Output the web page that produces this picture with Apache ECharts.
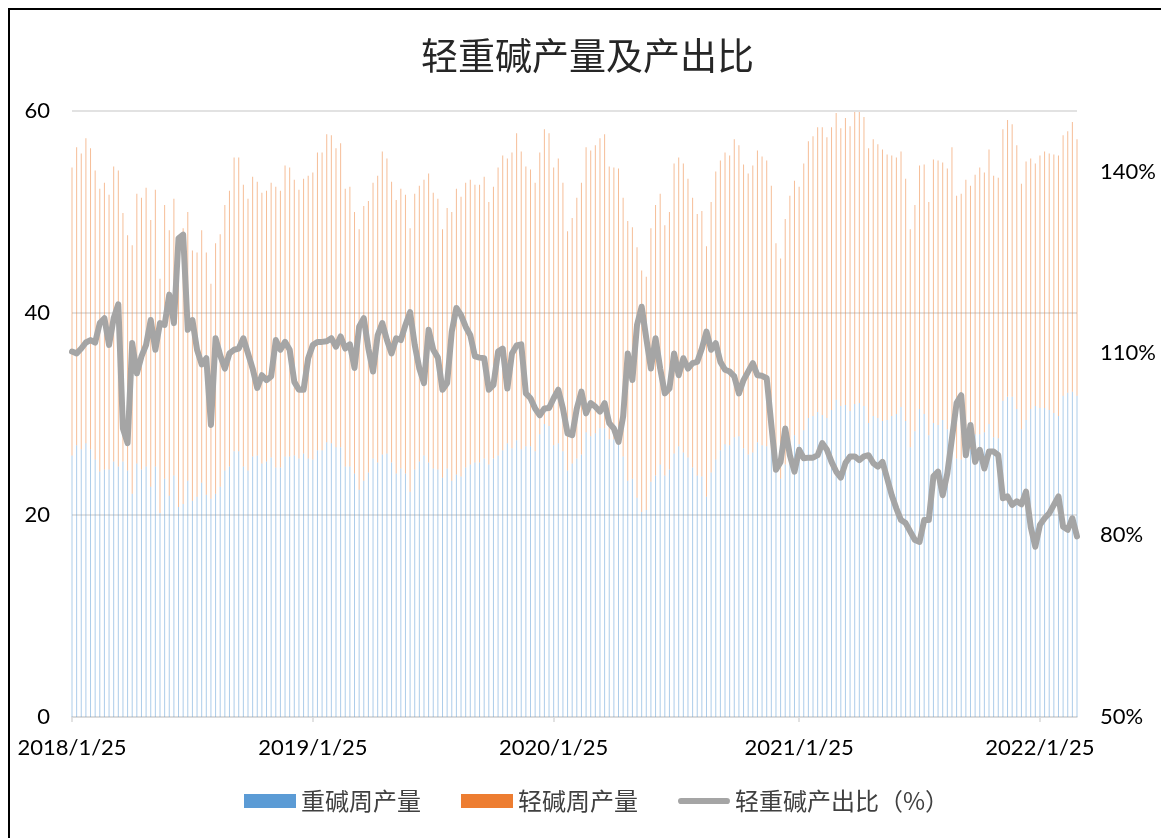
<!DOCTYPE html>
<html>
<head>
<meta charset="utf-8">
<script src="https://cdn.jsdelivr.net/npm/echarts@6/dist/echarts.min.js"></script>
<style>
html,body{margin:0;padding:0;width:1161px;height:838px;overflow:hidden;background:#fff;}
#chart{position:absolute;left:0;top:0;width:1161px;height:838px;}
#frame{position:absolute;left:8px;top:8px;width:2000px;height:2000px;border-left:2px solid #000;border-top:2px solid #000;pointer-events:none;}
</style>
</head>
<body>
<div id="chart"></div>
<div id="frame"></div>
<script>
// ---- data ----
const startDate = '2018/1/25';
const weekCount = 218;
const tickLabels = ['2018/1/25', '2019/1/25', '2020/1/25', '2021/1/25', '2022/1/25'];

// 重碱周产量 (万吨)
const heavy = [
25.9,26.9,26.5,27.1,26.5,25.5,24.3,24.5,24.5,25.3,24.8,25.3,24.4,22.1,25.1,24.5,24.8,22.8,24.8,20.2,
23.6,21.9,23.9,20.8,21.1,23.4,21.4,21.8,23.2,22.0,21.6,22.1,22.8,24.4,24.8,26.3,26.3,24.8,24.4,25.8,
25.9,25.1,25.3,25.7,24.7,24.7,25.8,25.8,25.9,25.6,26.1,25.6,25.5,26.4,26.4,27.2,27.1,26.7,26.7,24.8,
24.8,24.1,22.5,23.4,24.2,25.6,25.2,26.0,26.1,25.2,24.1,24.6,24.1,22.3,24.5,25.3,25.9,25.2,24.6,24.5,
23.7,24.6,23.4,24.0,23.8,24.7,25.0,25.2,25.2,25.6,25.0,25.6,25.9,26.4,27.1,26.6,27.4,26.5,26.8,26.8,
26.3,28.0,29.0,28.8,26.9,27.1,26.3,24.4,25.1,25.6,26.0,28.2,27.8,28.1,28.6,28.6,27.5,27.5,27.8,25.8,
23.4,23.6,21.7,20.3,20.5,23.3,23.9,25.0,23.9,24.5,26.1,26.8,26.2,25.7,24.7,23.9,23.8,21.8,24.2,25.5,
26.4,27.0,26.9,27.7,27.8,26.6,26.0,26.2,27.2,26.9,26.8,26.5,24.6,23.6,25.0,26.7,27.9,27.0,28.4,29.6,
29.8,30.2,29.9,29.6,30.4,31.4,30.8,30.9,30.3,31.0,31.1,30.8,29.1,29.8,29.6,29.3,29.4,29.8,30.0,30.7,
29.3,26.7,28.3,30.5,30.0,27.9,29.1,28.9,29.4,28.5,28.8,25.6,25.5,27.5,26.5,28.0,28.0,28.2,29.0,27.7,
27.6,31.3,31.7,31.7,30.5,28.5,29.4,30.5,30.8,30.6,30.6,30.4,30.1,29.8,31.8,32.1,32.2,31.8
];

// 轻碱周产量 (万吨)
const light = [
28.5,29.5,29.3,30.2,29.8,28.6,28.0,28.4,27.2,29.2,29.3,24.6,23.3,24.6,26.7,26.9,27.6,26.4,27.4,23.2,
27.1,26.3,27.4,26.8,27.3,26.6,24.8,24.2,25.0,24.0,21.3,24.8,25.0,26.3,27.3,29.1,29.1,27.9,26.9,27.7,
27.1,26.8,26.8,27.2,27.8,27.4,28.8,28.6,27.3,26.6,27.2,28.0,28.4,29.5,29.5,30.5,30.5,29.6,30.1,27.5,
27.7,25.9,25.8,27.2,26.9,27.3,28.4,30.0,29.2,27.8,27.1,27.7,27.6,26.1,27.3,27.3,27.3,28.6,27.3,26.8,
24.6,25.8,26.6,28.3,27.7,28.2,28.2,27.5,27.5,27.9,26.0,26.9,28.5,29.2,28.2,29.3,30.4,29.5,27.7,27.4,
26.6,27.9,29.2,29.0,27.5,28.2,26.6,23.7,24.3,25.8,26.9,28.2,28.3,28.5,28.7,29.1,27.0,26.9,26.5,25.6,
25.7,24.9,24.8,23.9,23.1,25.1,26.8,26.8,24.8,25.5,28.7,28.6,28.6,27.6,26.7,25.9,26.3,24.8,26.8,28.5,
28.7,28.9,28.7,29.5,28.8,28.1,27.8,28.4,28.9,28.6,28.3,26.1,22.3,21.8,24.3,24.9,25.2,25.5,26.4,27.4,
27.7,28.2,28.5,27.8,28.0,28.4,27.5,28.4,28.2,28.9,28.8,28.6,27.2,27.4,27.1,26.9,26.3,25.8,25.4,25.3,
24.0,21.6,22.4,24.1,24.7,23.1,26.1,26.2,25.5,25.8,27.6,26.0,26.3,25.7,26.1,25.7,26.4,25.7,27.2,25.9,
25.8,26.9,27.4,27.0,26.1,24.3,25.6,24.8,24.0,25.0,25.4,25.4,25.6,25.8,25.8,25.9,26.7,25.4
];

// 轻重碱产出比 (%)
const ratio = [
110.3,110.0,110.8,111.8,112.2,111.8,115.0,115.8,111.4,115.8,118.1,97.6,95.2,111.7,106.7,109.5,111.4,115.5,110.6,115.0,
114.7,119.7,115.0,129.0,129.6,113.9,115.5,110.6,108.2,109.2,98.2,112.5,109.7,107.5,110.0,110.6,110.8,112.5,110.0,107.5,
104.3,106.4,105.6,106.2,112.2,110.6,111.9,110.6,105.3,104.0,104.0,109.2,111.4,111.9,111.9,112.0,112.5,111.1,112.8,110.8,
111.5,107.6,114.4,115.8,110.8,107.0,113.0,115.0,112.2,110.0,112.5,112.2,114.7,116.8,111.4,107.5,105.1,113.9,110.6,109.3,
104.0,105.1,113.6,117.5,116.3,114.4,113.0,109.5,109.3,109.2,104.0,104.8,110.3,110.8,104.2,110.0,111.3,111.5,103.4,102.6,
100.9,99.8,100.9,101.0,102.6,104.0,100.9,96.8,96.5,100.9,103.7,100.1,101.8,101.2,100.4,101.8,98.5,97.6,95.4,99.6,
110.0,105.6,114.7,117.7,112.5,107.5,112.5,107.5,103.4,104.2,110.0,106.4,109.2,107.5,108.4,108.6,110.8,113.6,110.6,111.7,
108.6,107.3,107.0,106.2,103.4,105.6,107.0,108.4,106.4,106.3,105.9,98.2,90.8,92.1,97.6,93.2,90.5,94.1,92.7,92.8,
92.8,93.2,95.2,94.1,92.1,90.5,89.5,91.9,93.0,93.0,92.4,93.0,93.2,91.9,91.3,92.1,89.4,86.6,84.4,82.5,
82.0,80.6,79.2,78.9,82.5,82.5,89.7,90.5,86.6,90.2,96.0,101.8,103.1,93.2,98.2,92.1,94.1,91.0,93.8,93.8,
93.2,86.1,86.4,85.0,85.6,85.1,87.2,81.4,78.1,81.7,82.8,83.6,85.0,86.4,81.4,80.9,82.8,79.8
];

// weekly date categories
function fmt(d){ return d.getFullYear() + '/' + (d.getMonth()+1) + '/' + d.getDate(); }
function parse(s){ const p = s.split('/').map(Number); return new Date(p[0], p[1]-1, p[2]); }
const categories = [];
const d0 = parse(startDate);
for (let i = 0; i < weekCount; i++) {
  categories.push(fmt(new Date(d0.getFullYear(), d0.getMonth(), d0.getDate() + 7*i)));
}
// category index nearest to each tick label's date
const tickIdx = tickLabels.map(function(s){
  const t = parse(s).getTime();
  let best = 0, bd = Infinity;
  categories.forEach(function(c, i){ const dd = Math.abs(parse(c).getTime() - t); if (dd < bd) { bd = dd; best = i; } });
  return best;
});

const numFont = 'Lato, "Liberation Sans", sans-serif';
const cjkFont = '"Noto Sans CJK SC", "Noto Sans", sans-serif';
const lineIcon = 'path://M3,0 L47,0 A3,3 0 0 1 47,6 L3,6 A3,3 0 0 1 3,0 Z';

const chart = echarts.init(document.getElementById('chart'), null, {renderer: 'canvas'});
chart.setOption({
  animation: false,
  backgroundColor: 'transparent',
  title: {
    text: '轻重碱产量及产出比',
    left: 421, top: 37, padding: 0,
    textStyle: {fontFamily: cjkFont, fontSize: 37, fontWeight: 'normal', color: '#262626'}
  },
  legend: {
    left: 244, top: 789, padding: 0,
    itemWidth: 52, itemHeight: 14, itemGap: 40,
    symbolKeepAspect: true,
    textStyle: {fontFamily: cjkFont, fontSize: 24, color: '#404040'},
    data: [
      {name: '重碱周产量', icon: 'rect', itemStyle: {color: '#5B9BD5', opacity: 1}},
      {name: '轻碱周产量', icon: 'rect', itemStyle: {color: '#ED7D31', opacity: 1}},
      {name: '轻重碱产出比（%）', icon: lineIcon, itemStyle: {color: '#A5A5A5', opacity: 1}}
    ]
  },
  grid: {left: 72, right: 84, top: 111, bottom: 121},
  xAxis: {
    type: 'category',
    data: categories,
    boundaryGap: false,
    axisLine: {lineStyle: {color: '#d9d9d9', width: 1.5}},
    axisTick: {show: true, interval: function(i){ return tickIdx.indexOf(i) >= 0; }, length: 5, lineStyle: {color: '#d9d9d9', width: 1.5}},
    axisLabel: {
      interval: function(i){ return tickIdx.indexOf(i) >= 0; },
      formatter: function(v, i){ const k = tickIdx.indexOf(i); return k >= 0 ? tickLabels[k] : ''; },
      margin: 20, fontSize: 22, fontFamily: numFont, color: '#000'
    },
    splitLine: {show: false}
  },
  yAxis: [
    {
      type: 'value', min: 0, max: 60, interval: 20,
      axisLine: {show: false}, axisTick: {show: false},
      splitLine: {lineStyle: {color: '#d9d9d9', width: 1.5}},
      axisLabel: {margin: 22, fontSize: 22, fontFamily: numFont, color: '#000'}
    },
    {
      type: 'value', min: 50, max: 150, interval: 30, position: 'right',
      axisLine: {show: false}, axisTick: {show: false}, splitLine: {show: false},
      axisLabel: {margin: 23, fontSize: 22, fontFamily: numFont, color: '#000', showMaxLabel: false, formatter: '{value}%'}
    }
  ],
  series: [
    {
      name: '重碱周产量', type: 'bar', stack: 'output', data: heavy,
      barWidth: 1, itemStyle: {color: '#5B9BD5', opacity: 0.5}
    },
    {
      name: '轻碱周产量', type: 'bar', stack: 'output', data: light,
      barWidth: 1, itemStyle: {color: '#ED7D31', opacity: 0.5}
    },
    {
      name: '轻重碱产出比（%）', type: 'line', yAxisIndex: 1, data: ratio,
      symbol: 'none', z: 5,
      itemStyle: {color: '#A5A5A5'},
      lineStyle: {color: '#A5A5A5', width: 6, cap: 'round', join: 'round'}
    }
  ]
});
</script>
</body>
</html>
